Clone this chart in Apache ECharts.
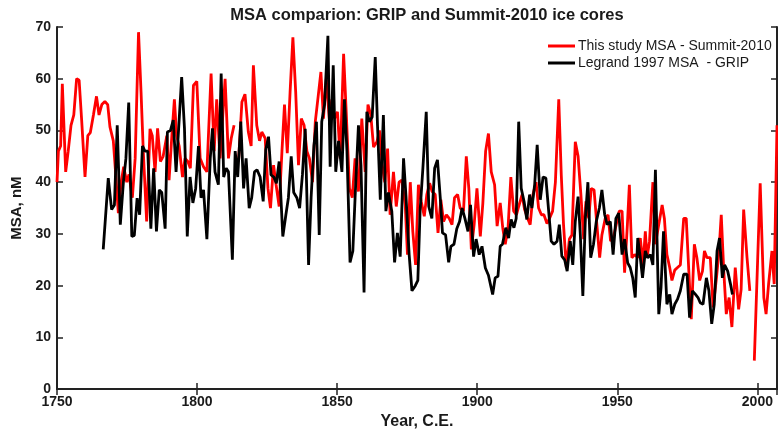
<!DOCTYPE html>
<html>
<head>
<meta charset="utf-8">
<script src="https://cdn.jsdelivr.net/npm/echarts@6/dist/echarts.min.js"></script>
<style>
  html, body { margin: 0; padding: 0; background: #fff; }
  #chart { width: 778px; height: 435px; }
</style>
</head>
<body>
<div id="chart"></div>
<script>
// Summit-2010 record (this study); null marks years without a sample
const redYears = [
  1750.0, 1750.5, 1751.3, 1751.9, 1753.1, 1754.0, 1755.0, 1756.0, 1757.0, 1757.9,
  1758.8, 1760.0, 1761.0, 1761.9, 1763.0, 1764.1, 1765.0, 1766.0, 1767.1, 1768.1,
  1768.9, 1770.1, 1770.9, 1771.9, 1772.9, 1773.8, 1774.9, 1775.7, 1776.9, 1777.9,
  1779.1, 1780.0, 1780.8, 1782.0, 1783.2, 1784.0, 1785.0, 1785.9, 1786.9, 1787.9,
  1789.2, 1790.0, 1791.0, 1791.9, 1792.7, 1793.6, 1794.8, 1795.7, 1796.7, 1797.6,
  1798.7, 1799.9, 1801.1, 1802.3, 1803.5, 1805.0, 1806.1, 1807.0, 1808.2, 1810.0,
  1811.2, 1812.2, 1813.2, 1813.7, 1814.8, 1816.0, 1817.1, 1818.3, 1819.3, 1820.1,
  1821.3, 1822.3, 1823.1, 1824.3, 1825.3, 1826.2, 1827.3, 1828.2, 1829.3, 1830.3,
  1831.2, 1832.2, 1833.2, 1834.2, 1835.2, 1836.2, 1837.2, 1838.2, 1839.2, 1840.1,
  1841.2, 1842.2, 1843.1, 1844.2, 1845.1, 1846.1, 1847.2, 1848.1, 1849.1, 1850.1,
  1851.1, 1852.3, 1853.2, 1854.4, 1855.4, 1856.4, 1857.6, 1858.8, 1860.0, 1861.0,
  1862.0, 1863.0, 1864.2, 1865.1, 1866.1, 1867.0, 1868.0, 1868.9, 1870.1, 1871.1,
  1872.1, 1873.1, 1874.3, 1875.1, 1876.1, 1877.0, 1878.0, 1879.0, 1880.0, 1881.1,
  1882.0, 1883.0, 1883.9, 1885.0, 1886.0, 1887.0, 1888.0, 1889.0, 1890.0, 1891.0,
  1891.9, 1893.0, 1893.9, 1895.1, 1896.1, 1897.0, 1897.9, 1898.9, 1899.9, 1901.1,
  1902.0, 1903.0, 1904.0, 1905.0, 1906.2, 1907.1, 1908.2, 1909.1, 1910.0, 1911.0,
  1912.0, 1913.0, 1914.0, 1914.8, 1916.0, 1916.9, 1918.0, 1918.9, 1919.9, 1921.0,
  1921.9, 1922.9, 1923.8, 1924.9, 1925.8, 1926.9, 1927.9, 1929.1, 1930.0, 1930.8,
  1931.8, 1932.9, 1933.8, 1935.0, 1936.0, 1937.0, 1938.0, 1938.8, 1939.8, 1940.7,
  1941.7, 1942.7, 1943.7, 1944.5, 1945.7, 1946.7, 1947.6, 1948.7, 1949.6, 1950.7,
  1951.7, 1952.6, 1953.6, 1954.3, 1955.2, 1956.2, 1957.3, 1958.2, 1959.2, 1960.0,
  1960.6, 1961.5, 1962.7, 1963.6, 1964.8, 1966.0, 1966.8, 1967.7, 1968.7, 1969.5,
  1970.5, 1971.5, 1972.5, 1973.7, 1974.6, 1975.6, 1976.4, 1977.5, 1978.4, 1979.4,
  1980.4, 1981.1, 1982.0, 1983.2, 1984.2, 1985.4, 1986.3, 1987.1, 1988.0, 1988.9,
  1989.9, 1990.9, 1992.1, 1993.3, 1994.2, 1995.1, 1996.3, 1997.3, 1998.1, 1998.9,
  2001.0, 2002.3, 2003.1, 2004.0, 2005.2, 2006.0, 2007.0
];
const redMSA = [
  40, 46, 47, 59, 42, 46, 51, 53, 60, 59.7,
  52, 41, 49, 49.6, 53, 56.6, 53, 55, 55.6, 55,
  50.7, 48, 42, 34, 40, 43, 40, 41.5, 37, 44.6,
  69, 57.4, 46, 32.4, 50.3, 49, 42, 50.4, 44, 45,
  49, 40.4, 49, 56, 49, 47, 41, 44.6, 44, 42.7,
  58.7, 59.5, 44.6, 43, 42, 61, 46, 56, 44.6, 60,
  44.6, 48.5, 51, null, 44, 55.5, 57, 49.7, 47, 62.6,
  51, 48, 49.7, 48.5, 38.8, 35, 43.3, 39.5, 35.3, 46,
  55, 45.6, 57.4, 68, 57.4, 43.3, 52.3, 51, 46, 44.6,
  40, 51.7, 56, 61.3, 52.3, 60, 52.3, 56, 52.3, 53.6,
  44.6, 64.8, 54, 38.8, 37, 44.6, 38.2, 52.3, 42, 55,
  53, 46.8, 47.8, 50, 43.3, 40, 46.5, 33.7, 42, 35.3,
  40, 40.4, 35.6, 26, 40, 30.5, 24, 39.5, 36.3, 33.4,
  37.6, 39.8, 38.2, 37.6, 30.2, 36.6, 32.4, 33.7, 33, 31.8,
  37, 37.6, 35, 34.4, 45, 38.8, 27, 31.8, 38.8, 29.5,
  35.9, 46, 49.4, 42, 39.5, 31.5, 36, 31.2, 28, 31.2,
  41, 34.4, 33.7, 35.3, 37.6, 34.7, 33, 31.8, 37.6, 40,
  35, 33.7, 33.7, 32, 33, 34.4, 40, 56, 41.4, 31.8,
  23.5, 29, 29.8, 47.8, 45, 37.6, 29, 36.3, 33, 38.8,
  38.5, 31.8, 25.4, 29.8, 33, 33.7, 28.6, 29.5, 31.8, 34.4,
  34.4, 22.5, 31.8, 39.5, 25.4, 26, 25.4, 29.2, 24, 30.5,
  25.4, 28.6, 40, 28, 31.8, 35.6, 33, 26, 23.5, 21,
  23, 23.5, 24, 33, 33, 22, 13.5, 28, 25.4, 21,
  22.8, 26.7, 25.4, 25.4, 15.8, 21.5, 26.7, 33.7, 22.8, 14.5,
  17.7, 12, 23.5, 15.4, 19.3, 34.7, 25.4, 19, null, 5.5,
  39.8, 17.7, 14.5, 20.3, 26.7, 20.3, 51
];

// GRIP record, Legrand 1997
const blackYears = [
  1766.5, 1768.3, 1769.5, 1770.5, 1771.5, 1772.6, 1773.7, 1774.6, 1775.6, 1776.7,
  1777.6, 1778.6, 1779.5, 1780.5, 1781.4, 1782.4, 1783.5, 1784.5, 1785.5, 1786.5,
  1787.4, 1788.6, 1789.4, 1790.5, 1791.5, 1792.5, 1793.6, 1794.5, 1795.5, 1796.5,
  1797.5, 1798.5, 1799.5, 1800.5, 1801.4, 1802.3, 1803.5, 1804.7, 1805.5, 1806.4,
  1807.6, 1808.6, 1809.5, 1810.4, 1811.2, 1812.6, 1813.6, 1814.5, 1815.6, 1816.6,
  1817.5, 1818.6, 1819.5, 1820.5, 1821.4, 1822.5, 1823.6, 1824.5, 1825.5, 1826.4,
  1827.4, 1828.3, 1829.3, 1830.6, 1831.7, 1832.6, 1833.6, 1834.5, 1835.6, 1836.6,
  1837.6, 1838.6, 1839.8, 1840.7, 1841.7, 1842.6, 1843.6, 1844.5, 1845.5, 1846.7,
  1847.5, 1848.6, 1849.5, 1850.5, 1851.7, 1852.6, 1853.5, 1854.6, 1855.6, 1856.4,
  1857.6, 1858.5, 1859.6, 1860.6, 1861.5, 1862.5, 1863.6, 1864.4, 1865.4, 1866.5,
  1867.4, 1868.3, 1869.5, 1870.5, 1871.5, 1872.5, 1873.7, 1874.6, 1875.7, 1876.7,
  1877.9, 1878.8, 1879.6, 1880.6, 1881.8, 1882.7, 1883.8, 1884.8, 1885.8, 1886.8,
  1887.6, 1888.7, 1889.8, 1890.6, 1891.7, 1892.7, 1893.7, 1894.6, 1895.6, 1896.7,
  1897.6, 1898.7, 1899.6, 1900.7, 1901.7, 1902.9, 1904.0, 1905.5, 1906.4, 1907.4,
  1908.2, 1909.0, 1910.2, 1911.2, 1912.1, 1913.1, 1913.9, 1914.8, 1915.7, 1916.7,
  1917.7, 1918.7, 1919.5, 1920.5, 1921.4, 1922.5, 1923.5, 1924.5, 1925.5, 1926.4,
  1927.4, 1928.5, 1929.3, 1930.2, 1931.2, 1932.1, 1933.2, 1934.1, 1935.0, 1936.0,
  1936.8, 1937.7, 1938.6, 1939.5, 1940.5, 1941.5, 1942.5, 1943.6, 1944.5, 1945.5,
  1946.4, 1947.5, 1948.5, 1949.5, 1950.5, 1951.7, 1952.6, 1953.7, 1954.6, 1955.5,
  1956.4, 1957.3, 1958.2, 1959.0, 1960.0, 1960.8, 1961.8, 1962.7, 1963.6, 1964.8,
  1965.6, 1966.5, 1967.7, 1968.7, 1969.5, 1970.5, 1971.5, 1972.5, 1973.7, 1974.9,
  1975.8, 1976.8, 1977.9, 1978.8, 1979.6, 1980.6, 1981.8, 1982.7, 1983.7, 1984.6,
  1985.6, 1986.5, 1987.5, 1988.3, 1989.4, 1990.4, 1991.1
];
const blackMSA = [
  27, 40.8, 34.7, 35.6, 51, 31.8, 40, 44.6, 55.4, 29.5,
  29.7, 36.9, 33.7, 47, 46, 46, 31, 42.7, 30.5, 38.5,
  38, 31, 49.7, 50, 52, 42, 52, 60.3, 50.4, 29.5,
  41, 36, 38.8, 47, 37, 38.5, 29, 44.6, 50.4, 42,
  39.5, 61, 41, 42.7, 42, 25, 46, 41, 51.7, 38.8,
  44.6, 35, 37, 42, 42.4, 41, 36.3, 46.2, 48.8, 41.4,
  41, 39.8, 44, 29.5, 33.7, 37, 45, 38, 37, 35,
  41.4, 50.3, 24, 37, 47, 51.7, 29.8, 51.7, 55, 68.3,
  43, 62.6, 42, 48, 42, 56, 46, 24.5, 26.7, 37,
  51, 43.3, 18.7, 53.6, 51.7, 52.6, 64.2, 51, 36.6, 53,
  34.4, 38, 34.4, 24.5, 30.2, 25.6, 44.6, 37, 26, 19,
  20, 21, 34.4, 42.7, 53.6, 35.3, 33, 42.7, 44.3, 37,
  30.2, 29.8, 24.5, 27.6, 28, 31, 32.4, 35, 33, 30.5,
  35.6, 25.6, 29, 26, 27.6, 23.4, 22, 18.3, 21.5, 21.8,
  27.6, 28, 31.2, 29.2, 32.8, 31.2, 33, 51.7, 38.8, 36.3,
  32.8, 37.6, 35, 39.5, 47.2, 36.6, 41, 40.8, 34.4, 28.6,
  28, 28.6, 31.8, 25.7, 25, 22.8, 28.6, 24, 32.4, 37.2,
  29.8, 18, 33, 40, 25.4, 28, 32.4, 35, 38.5, 33.7,
  31.8, 32.4, 26, 33, 34, 26, 29, 24.4, 23.5, 21.5,
  17.7, 29.2, 25.4, 21.5, 26.7, 25.4, 26, 24, 42.4, 14.5,
  19.6, 30.5, 16.4, 18.3, 14.5, 16.4, 17.4, 19, 22.2, 22.2,
  13.8, 19, 18.3, 17.7, 16.7, 16.4, 21.5, 19, 12.6, 16.4,
  26.7, 29.2, 21.5, 24, 22.8, 20.3, 18.3
];

const yearTicks = { min: 1750, max: 2007, step: 50 };
const msaTicks = { min: 0, max: 70, step: 10 };

const redData = redYears.map((y, i) => [y, redMSA[i]]);
const blackData = blackYears.map((y, i) => [y, blackMSA[i]]);

const FONT = 'Liberation Sans';
const INK = '#1a1a1a';

const chart = echarts.init(document.getElementById('chart'), null, { renderer: 'canvas' });

const frameAxis = {
  axisLine: { show: true, lineStyle: { color: '#222', width: 2 } },
  axisTick: { show: true, inside: true, length: 6, lineStyle: { color: '#222', width: 1.5 } },
  splitLine: { show: false }
};

chart.setOption({
  animation: false,
  backgroundColor: '#fff',
  title: {
    text: 'MSA comparion: GRIP and Summit-2010 ice cores',
    left: 422,
    top: 2,
    textAlign: 'center',
    textStyle: { fontFamily: FONT, fontWeight: 'bold', fontSize: 16.5, color: INK }
  },
  legend: {
    orient: 'vertical',
    left: 548,
    top: 39,
    padding: 0,
    itemWidth: 27,
    itemHeight: 3,
    itemGap: 3,
    icon: 'rect',
    textStyle: { fontFamily: FONT, fontSize: 14, color: INK, padding: [0, 0, 0, -2] },
    data: ['This study MSA - Summit-2010', 'Legrand 1997 MSA  - GRIP']
  },
  grid: { left: 57, right: 1, top: 27, bottom: 45, containLabel: false },
  xAxis: [
    Object.assign({
      type: 'value',
      position: 'bottom',
      min: yearTicks.min, max: yearTicks.max, interval: yearTicks.step,
      name: 'Year, C.E.',
      nameLocation: 'middle',
      nameGap: 19,
      nameTextStyle: { fontFamily: FONT, fontWeight: 'bold', fontSize: 16, color: INK },
      axisLabel: {
        fontFamily: FONT, fontWeight: 'bold', fontSize: 14, color: INK, margin: 6,
        showMaxLabel: false,
        formatter: v => String(v)
      }
    }, frameAxis),
    Object.assign({
      type: 'value',
      position: 'top',
      min: yearTicks.min, max: yearTicks.max, interval: yearTicks.step,
      axisLabel: { show: false }
    }, frameAxis)
  ],
  yAxis: [
    Object.assign({
      type: 'value',
      position: 'left',
      min: msaTicks.min, max: msaTicks.max, interval: msaTicks.step,
      name: 'MSA, nM',
      nameLocation: 'middle',
      nameGap: 31,
      nameTextStyle: { fontFamily: FONT, fontWeight: 'bold', fontSize: 15, color: INK },
      axisLabel: { fontFamily: FONT, fontWeight: 'bold', fontSize: 14, color: INK, margin: 6 }
    }, frameAxis),
    Object.assign({
      type: 'value',
      position: 'right',
      min: msaTicks.min, max: msaTicks.max, interval: msaTicks.step,
      axisLabel: { show: false }
    }, frameAxis)
  ],
  series: [
    {
      name: 'This study MSA - Summit-2010',
      type: 'line',
      data: redData,
      showSymbol: false,
      connectNulls: false,
      lineStyle: { color: '#ff0000', width: 2.8 },
      itemStyle: { color: '#ff0000' },
      clip: true
    },
    {
      name: 'Legrand 1997 MSA  - GRIP',
      type: 'line',
      data: blackData,
      showSymbol: false,
      lineStyle: { color: '#000000', width: 2.8 },
      itemStyle: { color: '#000000' },
      clip: true
    }
  ]
});
</script>
</body>
</html>
